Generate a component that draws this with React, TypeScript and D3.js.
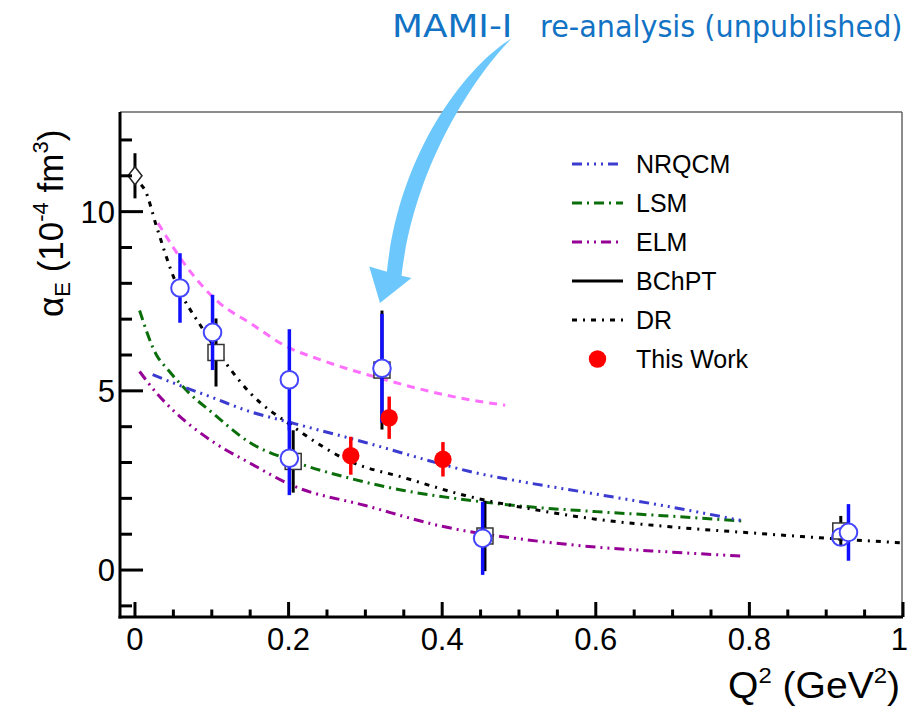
import React from 'react';
import * as d3 from 'd3';

const W = 910;
const H = 708;

// Theory curves: [Q2 (GeV^2), alpha_E (1e-4 fm^3)]
const nrqcmCurve: [number, number][] = [
  [0.023, 5.45], [0.05, 5.22], [0.1, 4.82], [0.15, 4.42], [0.2, 4.13], [0.3, 3.56],
  [0.4, 2.95], [0.436, 2.75], [0.5, 2.48], [0.6, 2.12], [0.7, 1.75], [0.79, 1.38],
];
const lsmCurve: [number, number][] = [
  [0.006, 7.24], [0.028, 6.0], [0.043, 5.59], [0.07, 4.95], [0.1, 4.4], [0.15, 3.55],
  [0.2, 3.08], [0.28, 2.56], [0.35, 2.22], [0.427, 1.97], [0.5, 1.79], [0.6, 1.63],
  [0.7, 1.5], [0.79, 1.37],
];
const elmCurve: [number, number][] = [
  [0.006, 5.54], [0.028, 4.94], [0.05, 4.45], [0.1, 3.6], [0.15, 2.98], [0.206, 2.35],
  [0.3, 1.8], [0.4, 1.22], [0.527, 0.8], [0.6, 0.64], [0.7, 0.5], [0.788, 0.39],
];
const drCurve: [number, number][] = [
  [0.008, 10.75], [0.013, 10.6], [0.028, 9.59], [0.05, 8.19], [0.089, 6.7], [0.1215, 5.68],
  [0.15, 4.94], [0.206, 4.0], [0.28, 3.03], [0.35, 2.58], [0.43, 2.08], [0.53, 1.65],
  [0.6, 1.42], [0.7, 1.2], [0.8, 1.04], [0.92, 0.86], [1.0, 0.76],
];
const mamiReCurve: [number, number][] = [
  [0.03, 9.68], [0.067, 8.47], [0.11, 7.45], [0.15, 6.89], [0.197, 6.24], [0.241, 5.87],
  [0.319, 5.35], [0.436, 4.75], [0.482, 4.6],
];

// Data points: q2, value, error
const realPhotonQ2 = [0.0];
const realPhotonVal = [11.0];
const realPhotonErr = [0.63];

const squareQ2 = [0.1055, 0.206, 0.3216, 0.4557, 0.919];
const squareVal = [6.07, 3.03, 5.58, 0.95, 1.09];
const squareErr = [0.95, 0.87, 1.66, 0.98, 0.42];

const circleQ2 = [0.0586, 0.101, 0.201, 0.201, 0.3216, 0.4527, 0.919, 0.929];
const circleVal = [7.87, 6.63, 5.31, 3.12, 5.63, 0.885, 0.92, 1.05];
const circleErr = [0.97, 1.05, 1.41, 1.03, 1.52, 1.02, 0.0, 0.79];

const thisWorkQ2 = [0.281, 0.331, 0.401];
const thisWorkVal = [3.19, 4.25, 3.09];
const thisWorkErr = [0.53, 0.59, 0.48];

const xMajorTicks = [0, 0.2, 0.4, 0.6, 0.8, 1];
const xTickLabels = ['0', '0.2', '0.4', '0.6', '0.8', '1'];
const yMajorTicks = [0, 5, 10];
const yTickLabels = ['0', '5', '10'];

const legendLabels = ['NRQCM', 'LSM', 'ELM', 'BChPT', 'DR', 'This Work'];

const FONT = "'Liberation Sans', Arial, Helvetica, sans-serif";

export default function App() {
  const left = 120, right = 903, top = 112, bottom = 617;
  const xs = d3.scaleLinear().domain([-0.0195, 1.0]).range([left, right]);
  const ys = d3.scaleLinear().domain([-1.31, 12.78]).range([bottom, top]);

  const line = d3
    .line<[number, number]>()
    .x((d) => xs(d[0]))
    .y((d) => ys(d[1]))
    .curve(d3.curveMonotoneX);

  const xMinor = d3.range(0, 1.0001, 0.05).filter((v) => !xMajorTicks.some((m) => Math.abs(m - v) < 1e-6));
  const yMinor = d3.range(-1, 12.5, 1).filter((v) => !yMajorTicks.includes(v));

  const styles = {
    nrqcm: { stroke: '#3b3bd0', dash: '10,5,2,5,2,5,2,5' },
    lsm: { stroke: '#0b6e0b', dash: '10,5,2,5' },
    elm: { stroke: '#960096', dash: '10,5,2,5,2,5' },
    dr: { stroke: '#000000', dash: '5,6,2,6' },
  };

  const legendStyles = [
    { stroke: styles.nrqcm.stroke, dash: styles.nrqcm.dash, kind: 'line' },
    { stroke: styles.lsm.stroke, dash: styles.lsm.dash, kind: 'line' },
    { stroke: styles.elm.stroke, dash: styles.elm.dash, kind: 'line' },
    { stroke: '#000', dash: undefined, kind: 'line' },
    { stroke: styles.dr.stroke, dash: styles.dr.dash, kind: 'line' },
    { stroke: '#ff0000', dash: undefined, kind: 'dot' },
  ];
  const legendY0 = 164;
  const legendStep = 39;

  // arrow annotation (anchored to the data frame via the scales)
  const P = (q: number, v: number) => [xs(q), ys(v)];
  const topPt = P(0.4905, 14.83);
  const lc1 = P(0.4355, 14.13);
  const lc2 = P(0.3445, 11.76);
  const lEnd = P(0.328, 8.32);
  const hl = P(0.305, 8.47);
  const tip = P(0.319, 7.45);
  const hr = P(0.36, 8.15);
  const rStart = P(0.347, 8.21);
  const rc1 = P(0.3645, 11.45);
  const rc2 = P(0.4495, 13.96);
  const arrowPath =
    `M${topPt[0]},${topPt[1]} C${lc1[0]},${lc1[1]} ${lc2[0]},${lc2[1]} ${lEnd[0]},${lEnd[1]} ` +
    `L${hl[0]},${hl[1]} L${tip[0]},${tip[1]} L${hr[0]},${hr[1]} L${rStart[0]},${rStart[1]} ` +
    `C${rc1[0]},${rc1[1]} ${rc2[0]},${rc2[1]} ${topPt[0]},${topPt[1]} Z`;

  return (
    <svg
      width={W}
      height={H}
      viewBox={`0 0 ${W} ${H}`}
      style={{ position: 'absolute', left: 0, top: 0, background: '#fff' }}
      fontFamily={FONT}
    >
      <rect x={0} y={0} width={W} height={H} fill="#fff" />

      {/* frame top/right */}
      <line x1={left} y1={top} x2={right - 1} y2={top} stroke="#666" strokeWidth={1.5} />
      <line x1={right - 1} y1={top} x2={right - 1} y2={bottom} stroke="#666" strokeWidth={1.5} />

      {/* theory curves */}
      <path d={line(mamiReCurve) || ''} fill="none" stroke="#ff70ff" strokeWidth={3} strokeDasharray="8,6" />
      <path d={line(elmCurve) || ''} fill="none" stroke={styles.elm.stroke} strokeWidth={3} strokeDasharray={styles.elm.dash} />
      <path d={line(lsmCurve) || ''} fill="none" stroke={styles.lsm.stroke} strokeWidth={3} strokeDasharray={styles.lsm.dash} />
      <path d={line(nrqcmCurve) || ''} fill="none" stroke={styles.nrqcm.stroke} strokeWidth={3} strokeDasharray={styles.nrqcm.dash} />
      <path d={line(drCurve) || ''} fill="none" stroke={styles.dr.stroke} strokeWidth={3} strokeDasharray={styles.dr.dash} />

      {/* real photon point (diamond) */}
      {realPhotonQ2.map((q, i) => {
        const cx = xs(q), cy = ys(realPhotonVal[i]);
        return (
          <g key={'rp' + i}>
            <line x1={cx} x2={cx} y1={ys(realPhotonVal[i] + realPhotonErr[i])} y2={ys(realPhotonVal[i] - realPhotonErr[i])} stroke="#000" strokeWidth={3} />
            <path d={`M${cx},${cy - 9} L${cx + 7},${cy} L${cx},${cy + 9} L${cx - 7},${cy} Z`} fill="#fff" stroke="#222" strokeWidth={1.5} />
          </g>
        );
      })}

      {/* open squares with black error bars */}
      {squareQ2.map((q, i) => {
        const cx = xs(q), cy = ys(squareVal[i]);
        return (
          <g key={'sq' + i}>
            <line x1={cx} x2={cx} y1={ys(squareVal[i] + squareErr[i])} y2={ys(squareVal[i] - squareErr[i])} stroke="#000" strokeWidth={3} />
            <rect x={cx - 8} y={cy - 8} width={16} height={16} fill="#fff" stroke="#333" strokeWidth={1.5} />
          </g>
        );
      })}

      {/* open circles with blue error bars */}
      {circleQ2.map((q, i) => {
        const cx = xs(q);
        return circleErr[i] > 0 ? (
          <line key={'cb' + i} x1={cx} x2={cx} y1={ys(circleVal[i] + circleErr[i])} y2={ys(circleVal[i] - circleErr[i])} stroke="#1010ff" strokeWidth={3.5} />
        ) : null;
      })}
      {circleQ2.map((q, i) => (
        <circle key={'c' + i} cx={xs(q)} cy={ys(circleVal[i])} r={8.8} fill="#fff" fillOpacity={circleErr[i] > 0 ? 1 : 0} stroke="#4545ff" strokeWidth={2} />
      ))}

      {/* this work */}
      {thisWorkQ2.map((q, i) => {
        const cx = xs(q), cy = ys(thisWorkVal[i]);
        return (
          <g key={'tw' + i}>
            <line x1={cx} x2={cx} y1={ys(thisWorkVal[i] + thisWorkErr[i])} y2={ys(thisWorkVal[i] - thisWorkErr[i])} stroke="#ff0000" strokeWidth={3.5} />
            <circle cx={cx} cy={cy} r={8.7} fill="#ff0000" />
          </g>
        );
      })}

      {/* axes */}
      <line x1={left} y1={top} x2={left} y2={bottom + 1.5} stroke="#000" strokeWidth={3} />
      <line x1={left - 1.5} y1={bottom} x2={right} y2={bottom} stroke="#000" strokeWidth={3} />
      {yMajorTicks.map((v) => (
        <line key={'ym' + v} x1={left} x2={left + 23} y1={ys(v)} y2={ys(v)} stroke="#000" strokeWidth={3} />
      ))}
      {yMinor.map((v) => (
        <line key={'yn' + v} x1={left} x2={left + 12} y1={ys(v)} y2={ys(v)} stroke="#000" strokeWidth={3} />
      ))}
      {xMajorTicks.map((v) => (
        <line key={'xm' + v} x1={xs(v)} x2={xs(v)} y1={bottom} y2={bottom - 15} stroke="#000" strokeWidth={3} />
      ))}
      {xMinor.map((v) => (
        <line key={'xn' + v} x1={xs(v)} x2={xs(v)} y1={bottom} y2={bottom - 7.5} stroke="#000" strokeWidth={3} />
      ))}

      {/* tick labels */}
      {xMajorTicks.map((v, i) => {
        const last = i === xMajorTicks.length - 1;
        return (
          <text key={'xl' + v} x={last ? 908 : xs(v)} y={650} textAnchor={last ? 'end' : 'middle'} fontSize={31} fill="#000">
            {xTickLabels[i]}
          </text>
        );
      })}
      {yMajorTicks.map((v, i) => (
        <text key={'yl' + v} x={115} y={ys(v) + 11} textAnchor="end" fontSize={31} fill="#000">
          {yTickLabels[i]}
        </text>
      ))}

      {/* axis titles */}
      <text x={728} y={698} textAnchor="start" fontSize={36} fill="#000" textLength={172} lengthAdjust="spacingAndGlyphs">
        Q<tspan fontSize={22} dy={-15}>2</tspan>
        <tspan dy={15}> (GeV</tspan>
        <tspan fontSize={22} dy={-15}>2</tspan>
        <tspan dy={15}>)</tspan>
      </text>
      <text transform="translate(63, 317) rotate(-90)" textAnchor="start" fontSize={35} fill="#000">
        α<tspan fontSize={22} dy={7}>E</tspan>
        <tspan dy={-7}> (10</tspan>
        <tspan fontSize={22} dy={-15}>-4</tspan>
        <tspan dy={15}> fm</tspan>
        <tspan fontSize={22} dy={-15}>3</tspan>
        <tspan dy={15}>)</tspan>
      </text>

      {/* legend */}
      {legendLabels.map((lab, i) => {
        const y = legendY0 + i * legendStep;
        const st = legendStyles[i];
        return (
          <g key={'lg' + i}>
            {st.kind === 'line' ? (
              <line x1={572} x2={623} y1={y} y2={y} stroke={st.stroke} strokeWidth={3} strokeDasharray={st.dash} />
            ) : (
              <circle cx={597.5} cy={y} r={8.7} fill={st.stroke} />
            )}
            <text x={636} y={y + 9} fontSize={25} fill="#000">
              {lab}
            </text>
          </g>
        );
      })}

      {/* annotation */}
      <path d={arrowPath} fill="#6cc8fc" />
      <text transform="translate(392, 37) scale(1.12, 1)" fontSize={32} fill="#1272c4" fontFamily="'DejaVu Sans', sans-serif">
        MAMI-I
      </text>
      <text transform="translate(540, 37) scale(0.925, 1)" fontSize={31} fill="#1272c4" fontFamily="'DejaVu Sans', sans-serif">
        re-analysis (unpublished)
      </text>
    </svg>
  );
}
